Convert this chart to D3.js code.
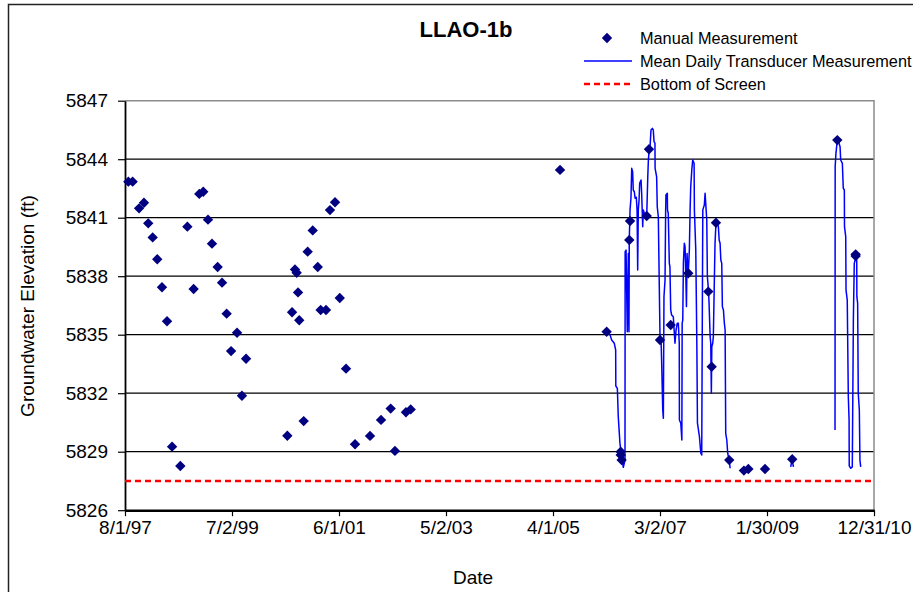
<!DOCTYPE html>
<html><head><meta charset="utf-8">
<script src="https://cdn.jsdelivr.net/npm/d3@7/dist/d3.min.js"></script>
<style>
html,body{margin:0;padding:0;background:#fff;}
svg{display:block;font-family:Arial,"Liberation Sans",sans-serif;}
</style>
</head><body>
<svg id="chart" width="913" height="592"></svg>
<script>
// ---------- DATA (dates as Excel serial day numbers) ----------
const titleText = "LLAO-1b";
const yTicks = [5826, 5829, 5832, 5835, 5838, 5841, 5844, 5847];
const xTickSerials = [35643, 36343, 37043, 37743, 38443, 39143, 39843, 40543];
const xTickLabels = ["8/1/97", "7/2/99", "6/1/01", "5/2/03", "4/1/05", "3/2/07", "1/30/09", "12/31/10"];
const legendLabels = ["Manual Measurement", "Mean Daily Transducer Measurement", "Bottom of Screen"];
const bottomOfScreen = 5827.5;

const manualSerial = [35665,35693,35735,35767,35795,35824,35854,35885,35918,35951,
  36005,36051,36092,36129,36155,36186,36212,36249,36278,36308,
  36337,36376,36408,36435,36705,36736,36755,36766,36775,36783,
  36812,36838,36871,36904,36923,36958,36984,37017,37048,37089,
  37148,37246,37318,37381,37409,37481,37512,38489,38794,38886,
  38886,38892,38942,38947,39056,39071,39143,39213,39328,39459,
  39481,39509,39596,39692,39721,39830,40008,40303,40423,40423];
const manualValue = [5842.85,5842.85,5841.48,5841.77,5840.71,5839.99,5838.87,5837.43,5835.69,5829.26,
  5828.27,5840.54,5837.34,5842.22,5842.33,5840.90,5839.67,5838.47,5837.67,5836.08,
  5834.16,5835.10,5831.87,5833.77,5829.82,5836.15,5838.35,5838.18,5837.17,5835.74,
  5830.57,5839.26,5840.35,5838.47,5836.27,5836.27,5841.39,5841.79,5836.88,5833.26,
  5829.38,5829.81,5830.63,5831.21,5829.04,5831.02,5831.17,5843.45,5835.15,5829.00,
  5828.83,5828.57,5839.86,5840.83,5841.09,5844.51,5834.73,5835.50,5838.15,5837.21,
  5833.36,5840.74,5828.57,5828.03,5828.11,5828.11,5828.61,5844.98,5839.12,5839.03];

// Transducer record, three separate runs of data
const transducerASerial = [38798,38816,38827,38844,38853,38854,38864,38870,38881,38892,
  38903,38914,38915,38921,38929,38936,38940,38942,38947,38953,
  38958,38964,38968,38975,38980,38988,38993,38997,39001,39006,
  39010,39019,39023,39030,39034,39040,39056,39063,39067,39073,
  39078,39084,39093,39099,39104,39110,39111,39121,39125,39132,
  39143,39150,39154,39161,39165,39169,39176,39180,39182,39191,
  39192,39197,39204,39208,39213,39219,39230,39241,39248,39256,
  39263,39269,39270,39279,39286,39288,39292,39296,39302,39307,
  39312,39316,39320,39325,39329,39335,39340,39344,39351,39357,
  39366,39368,39377,39384,39388,39401,39410,39416,39420,39423,
  39433,39438,39449,39453,39460,39464,39471,39475,39479,39482,
  39488,39492,39499,39503,39508,39517,39525,39530,39536,39541,
  39547,39551,39558,39564,39569,39573,39580,39586,39595,39602];
const transducerAValue = [5835.15,5834.98,5834.73,5834.56,5834.22,5832.37,5832.25,5830.80,5829.43,5828.74,
  5828.20,5828.57,5839.26,5839.34,5835.15,5839.17,5835.15,5839.86,5841.40,5842.00,
  5843.53,5843.36,5842.42,5842.33,5842.00,5842.05,5841.40,5838.32,5841.40,5841.91,
  5842.76,5842.93,5842.25,5840.54,5841.40,5841.23,5841.05,5843.10,5843.96,5844.56,
  5844.64,5845.50,5845.58,5845.50,5844.90,5844.82,5843.53,5843.10,5841.56,5841.05,
  5834.90,5834.73,5833.53,5831.14,5830.71,5836.95,5837.81,5841.40,5842.16,5842.25,
  5841.40,5841.23,5838.66,5838.49,5836.27,5836.01,5835.92,5834.56,5835.24,5835.59,
  5835.59,5834.56,5830.63,5830.46,5829.60,5835.59,5835.75,5838.66,5839.69,5839.51,
  5837.97,5836.44,5839.17,5838.15,5838.32,5839.34,5841.40,5842.59,5843.45,5843.96,
  5843.79,5841.40,5839.34,5834.56,5830.46,5829.77,5828.92,5828.83,5836.27,5841.40,
  5841.65,5842.25,5840.88,5837.97,5837.29,5836.61,5834.90,5834.56,5832.00,5834.39,
  5834.56,5834.90,5837.97,5839.69,5840.54,5840.71,5840.54,5839.86,5839.69,5838.83,
  5838.66,5836.44,5836.27,5835.59,5835.24,5829.94,5829.60,5828.92,5828.57,5828.15];
const transducerBSerial = [39998, 40007, 40016];
const transducerBValue = [5828.22, 5828.61, 5828.22];
const transducerCSerial = [40288,40289,40294,40303,40314,40321,40325,40336,40342,40349,
  40350,40358,40360,40368,40375,40380,40381,40391,40401,40408,
  40414,40423,40430,40431,40436,40440,40447,40451,40456];
const transducerCValue = [5830.11,5843.62,5844.30,5844.98,5844.82,5844.64,5843.96,5843.79,5842.51,5842.42,
  5840.54,5840.03,5837.29,5836.78,5831.82,5830.63,5828.27,5828.15,5828.22,5835.75,
  5838.66,5838.92,5838.83,5836.95,5836.61,5832.00,5831.14,5828.57,5828.22];

// ---------- CHART ----------
const fromSerial = s => new Date(Date.UTC(1899, 11, 30) + s * 864e5);
const svg = d3.select("#chart");
const X0 = 125, X1 = 874, Y0 = 100.7, Y1 = 510.2;

const x = d3.scaleUtc().domain([fromSerial(xTickSerials[0]), fromSerial(xTickSerials[xTickSerials.length - 1])]).range([X0, X1]);
const y = d3.scaleLinear().domain([yTicks[0], yTicks[yTicks.length - 1]]).range([Y1, Y0]);

// outer chart frame (extends beyond the visible window)
svg.append("rect").attr("x", 8.5).attr("y", 4.5).attr("width", 1200).attr("height", 800)
  .attr("fill", "none").attr("stroke", "#222").attr("stroke-width", 1.5);

// gridlines
svg.append("g").selectAll("line").data(yTicks.slice(1, -1)).join("line")
  .attr("x1", X0).attr("x2", X1).attr("y1", d => y(d)).attr("y2", d => y(d))
  .attr("stroke", "#000").attr("stroke-width", 1.2);
// plot frame top/right (grey)
svg.append("path").attr("d", `M${X0},${Y0}H${X1}V${Y1}`).attr("fill", "none")
  .attr("stroke", "#8c8c8c").attr("stroke-width", 1.5);

// axes
const yAxis = svg.append("g").attr("transform", `translate(${X0},0)`)
  .call(d3.axisLeft(y).tickValues(yTicks).tickFormat(d3.format("d")).tickSize(7).tickPadding(10).tickSizeOuter(0));
yAxis.select(".domain").attr("stroke", "#000").attr("stroke-width", 1.8);
yAxis.selectAll(".tick line").attr("stroke", "#000").attr("stroke-width", 1.2);
yAxis.selectAll("text").attr("font-size", 19).attr("fill", "#000").attr("font-family", "Arial, 'Liberation Sans', sans-serif");

const xAxis = svg.append("g").attr("transform", `translate(0,${Y1})`)
  .call(d3.axisBottom(x).tickValues(xTickSerials.map(fromSerial)).tickFormat((d, i) => xTickLabels[i]).tickSize(6).tickPadding(4).tickSizeOuter(0));
xAxis.select(".domain").attr("stroke", "#000").attr("stroke-width", 2.5);
xAxis.selectAll(".tick line").attr("stroke", "#000").attr("stroke-width", 1.2);
xAxis.selectAll("text").attr("font-size", 19).attr("fill", "#000").attr("font-family", "Arial, 'Liberation Sans', sans-serif");

// bottom of screen
svg.append("line").attr("x1", X0).attr("x2", X1).attr("y1", y(bottomOfScreen)).attr("y2", y(bottomOfScreen))
  .attr("stroke", "#ff0000").attr("stroke-width", 2.5).attr("stroke-dasharray", "6,4");

// transducer lines
const line = d3.line().x(d => x(fromSerial(d[0]))).y(d => y(d[1]));
[[transducerASerial, transducerAValue], [transducerBSerial, transducerBValue], [transducerCSerial, transducerCValue]]
  .forEach(([s, v]) => {
    svg.append("path").datum(s.map((d, i) => [d, v[i]])).attr("d", line)
      .attr("fill", "none").attr("stroke", "#0000ff").attr("stroke-width", 1.5).attr("stroke-linejoin", "round");
  });

// manual measurements
const diamond = d3.symbol(d3.symbolSquare, 54);
svg.append("g").selectAll("path").data(manualSerial.map((d, i) => [d, manualValue[i]])).join("path")
  .attr("d", diamond)
  .attr("transform", d => `translate(${x(fromSerial(d[0]))},${y(d[1])}) rotate(45)`)
  .attr("fill", "#000080");

// title
svg.append("text").attr("x", 466).attr("y", 37).attr("text-anchor", "middle")
  .attr("font-size", 22).attr("font-weight", "bold").text(titleText);

// axis titles
svg.append("text").attr("x", 473).attr("y", 584).attr("text-anchor", "middle").attr("font-size", 19).text("Date");
svg.append("text").attr("transform", "translate(34,306) rotate(-90)").attr("text-anchor", "middle")
  .attr("font-size", 19).text("Groundwater Elevation (ft)");

// legend
const lg = svg.append("g");
const lgY = [38, 61, 84];
lg.append("path").attr("d", d3.symbol(d3.symbolSquare, 54)).attr("transform", `translate(607,${lgY[0]}) rotate(45)`).attr("fill", "#000080");
lg.append("line").attr("x1", 584).attr("x2", 632).attr("y1", lgY[1]).attr("y2", lgY[1]).attr("stroke", "#0000ff").attr("stroke-width", 1.5);
lg.append("line").attr("x1", 584).attr("x2", 632).attr("y1", lgY[2]).attr("y2", lgY[2]).attr("stroke", "#ff0000").attr("stroke-width", 2.5).attr("stroke-dasharray", "6,4");
lg.selectAll("text").data(legendLabels).join("text")
  .attr("x", 640).attr("y", (d, i) => lgY[i]).attr("dy", "0.35em").attr("font-size", 16.3).text(d => d);
</script>
</body></html>
